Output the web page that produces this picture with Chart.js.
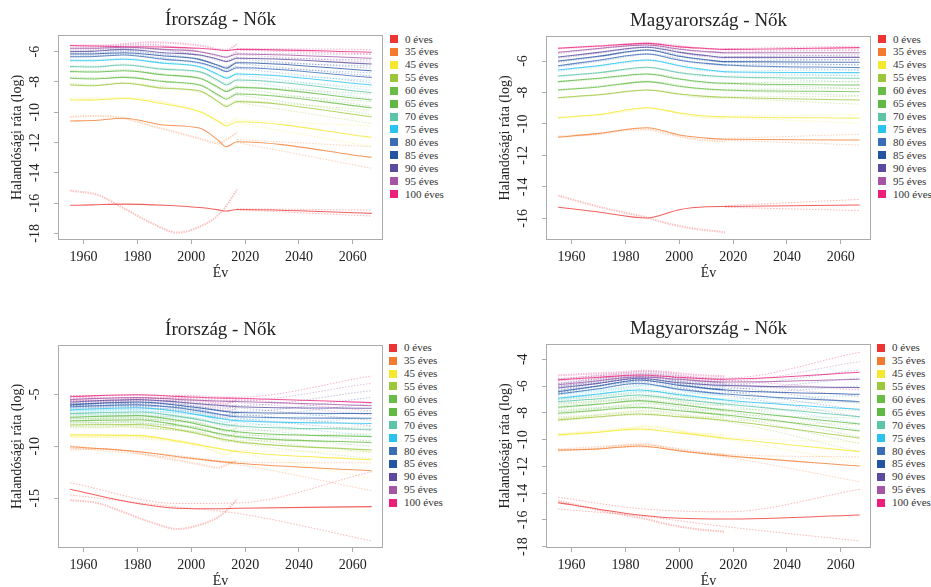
<!DOCTYPE html>
<html>
<head>
<meta charset="utf-8">
<script src="https://cdn.jsdelivr.net/npm/chart.js@4.4.1/dist/chart.umd.min.js"></script>
<style>
body { margin: 0; width: 931px; height: 587px; overflow: hidden; background: #fff; font-family: 'Liberation Serif', serif; }
canvas { position: absolute; }
.leg { position: absolute; font-family: 'Liberation Serif', serif; font-size: 11px; color: #333; }
.leg .sq { position: absolute; left: 0; width: 8px; height: 8px; }
.leg .tx { position: absolute; left: 15px; white-space: nowrap; line-height: 12px; font-family: 'Liberation Serif', serif; }
</style>
</head>
<body>
<script>
const ages = ['0 éves', '35 éves', '45 éves', '55 éves', '60 éves', '65 éves', '70 éves', '75 éves', '80 éves', '85 éves', '90 éves', '95 éves', '100 éves'];
const ageColors = ['#ee3432', '#f47a30', '#f5e82e', '#9cc73c', '#69bd46', '#60b845', '#5ec4a7', '#2ac3ef', '#3b6cb6', '#2553a3', '#5b4a9f', '#a456a4', '#ec1e79'];
const xTicks = [1960, 1980, 2000, 2020, 2040, 2060];

// Írország - megfigyelt (rows follow ages)
const ieObsYears = [1955, 1965, 1975, 1985, 1995, 2005, 2010, 2013, 2017];
const ieObs = [
  [-15.18, -15.45, -16.35, -17.3, -17.95, -17.4, -16.8, -16.2, -15.1],
  [-10.3, -10.25, -10.4, -10.9, -11.35, -11.84, -12.06, -11.8, -11.35],
  [-9.1, -9.1, -9.05, -9.2, -9.55, -10.1, -10.6, -10.75, -10.34],
  [-8.15, -8.2, -8.05, -8.25, -8.45, -8.75, -9.3, -9.55, -9.2],
  [-7.7, -7.75, -7.65, -7.85, -8.05, -8.3, -8.9, -9.05, -8.7],
  [-7.28, -7.3, -7.22, -7.4, -7.6, -7.85, -8.4, -8.55, -8.25],
  [-6.95, -6.98, -6.85, -7.05, -7.2, -7.45, -7.95, -8.1, -7.8],
  [-6.55, -6.55, -6.45, -6.65, -6.8, -7.1, -7.55, -7.7, -7.4],
  [-6.3, -6.28, -6.15, -6.35, -6.55, -6.85, -7.15, -7.25, -6.95],
  [-6.1, -6.1, -5.95, -6.1, -6.3, -6.6, -6.95, -7.0, -6.65],
  [-5.95, -5.9, -5.75, -5.8, -6.0, -6.3, -6.55, -6.6, -6.35],
  [-5.8, -5.75, -5.6, -5.55, -5.75, -6.05, -6.3, -6.35, -6.0],
  [-5.6, -5.6, -5.5, -5.38, -5.45, -5.65, -5.85, -5.9, -5.5]
];

// Magyarország - megfigyelt
const huObsYears = [1955, 1970, 1980, 1988, 1995, 2005, 2017];
const huObs = [
  [-14.56, -15.26, -15.65, -15.95, -16.3, -16.65, -16.89],
  [-10.8, -10.65, -10.4, -10.35, -10.6, -10.95, -11.13],
  [-9.62, -9.42, -9.2, -9.0, -9.15, -9.5, -9.65],
  [-8.35, -8.15, -7.95, -7.85, -7.95, -8.25, -8.35],
  [-7.85, -7.62, -7.45, -7.3, -7.42, -7.72, -7.86],
  [-7.33, -7.12, -6.95, -6.83, -6.95, -7.3, -7.44],
  [-6.97, -6.75, -6.55, -6.42, -6.55, -6.88, -7.02],
  [-6.6, -6.32, -6.1, -5.95, -6.08, -6.5, -6.7],
  [-6.35, -6.0, -5.72, -5.55, -5.7, -6.08, -6.27],
  [-6.05, -5.72, -5.45, -5.3, -5.45, -5.85, -6.06],
  [-5.8, -5.48, -5.25, -5.1, -5.22, -5.6, -5.8],
  [-5.5, -5.22, -5.05, -4.95, -5.05, -5.35, -5.5],
  [-5.2, -5.05, -4.95, -4.85, -4.95, -5.15, -5.28]
];

// panel 1: Írország (felső)
const p1YTicks = [-6, -8, -10, -12, -14, -16, -18];
const p1FitYears = [1955, 1963, 1975, 1990, 2003, 2010, 2013, 2017, 2067];
const p1Fit = [
  [-16.15, -16.12, -16.07, -16.15, -16.3, -16.45, -16.53, -16.42, -16.68],
  [-10.58, -10.55, -10.4, -10.85, -11.05, -11.85, -12.28, -11.95, -12.98],
  [-9.19, -9.2, -9.1, -9.46, -9.96, -10.6, -10.91, -10.63, -11.66],
  [-8.2, -8.25, -8.09, -8.42, -8.58, -9.3, -9.63, -9.3, -10.3],
  [-7.76, -7.8, -7.7, -7.98, -8.2, -8.85, -9.15, -8.8, -9.7],
  [-7.32, -7.35, -7.26, -7.54, -7.76, -8.35, -8.64, -8.36, -9.19],
  [-6.99, -7.02, -6.88, -7.17, -7.32, -7.9, -8.2, -7.87, -8.71],
  [-6.6, -6.6, -6.5, -6.77, -6.99, -7.5, -7.76, -7.48, -8.2],
  [-6.33, -6.33, -6.22, -6.51, -6.73, -7.1, -7.32, -7.06, -7.7],
  [-6.15, -6.15, -6.07, -6.29, -6.51, -6.9, -7.1, -6.73, -7.26],
  [-6.0, -5.98, -5.85, -6.07, -6.22, -6.5, -6.66, -6.44, -6.81],
  [-5.78, -5.78, -5.71, -5.85, -6.0, -6.25, -6.37, -6.15, -6.44],
  [-5.6, -5.62, -5.67, -5.7, -5.78, -5.88, -5.93, -5.85, -6.04]
];
const p1BandYears = [2017, 2067];
const p1Hi = [[-16.38, -16.46], [-11.8, -12.28], [-10.5, -10.91], [-9.2, -9.85], [-8.72, -9.3], [-8.28, -8.8], [-7.8, -8.35], [-7.42, -7.9], [-7.0, -7.4], [-6.68, -6.95], [-6.4, -6.55], [-6.1, -6.2], [-5.8, -5.85]];
const p1Lo = [[-16.45, -16.86], [-12.0, -13.7], [-10.7, -12.28], [-9.35, -10.75], [-8.85, -10.15], [-8.42, -9.6], [-7.93, -9.1], [-7.53, -8.55], [-7.1, -8.05], [-6.78, -7.6], [-6.48, -7.1], [-6.2, -6.7], [-5.9, -6.15]];

// panel 2: Magyarország (felső)
const p2YTicks = [-6, -8, -10, -12, -14, -16];
const p2FitYears = [1955, 1970, 1988, 2000, 2010, 2017, 2067];
const p2Fit = [
  [-15.3, -15.6, -15.98, -15.45, -15.27, -15.25, -15.15],
  [-10.85, -10.6, -10.24, -10.7, -10.9, -10.98, -11.02],
  [-9.6, -9.4, -8.97, -9.3, -9.5, -9.54, -9.64],
  [-8.33, -8.15, -7.84, -8.1, -8.25, -8.31, -8.48],
  [-7.84, -7.65, -7.31, -7.6, -7.78, -7.84, -7.95],
  [-7.31, -7.1, -6.83, -7.15, -7.35, -7.42, -7.53],
  [-6.95, -6.75, -6.4, -6.75, -6.92, -7.0, -7.1],
  [-6.57, -6.3, -5.94, -6.3, -6.55, -6.68, -6.74],
  [-6.3, -5.95, -5.56, -5.95, -6.15, -6.25, -6.42],
  [-6.0, -5.7, -5.3, -5.7, -5.92, -6.04, -6.08],
  [-5.75, -5.45, -5.12, -5.45, -5.65, -5.77, -5.77],
  [-5.45, -5.2, -4.98, -5.25, -5.4, -5.47, -5.47],
  [-5.19, -5.05, -4.88, -5.1, -5.2, -5.26, -5.15]
];
const p2BandYears = [2017, 2067];
const p2Hi = [[-15.2, -14.8], [-10.92, -10.66], [-9.5, -9.4], [-8.27, -8.25], [-7.8, -7.75], [-7.38, -7.3], [-6.96, -6.9], [-6.64, -6.55], [-6.22, -6.25], [-6.0, -5.9], [-5.73, -5.6], [-5.43, -5.3], [-5.22, -5.05]];
const p2Lo = [[-15.3, -15.51], [-11.04, -11.34], [-9.58, -9.96], [-8.35, -8.75], [-7.88, -8.2], [-7.46, -7.75], [-7.04, -7.35], [-6.72, -6.95], [-6.28, -6.6], [-6.08, -6.25], [-5.81, -5.95], [-5.51, -5.7], [-5.3, -5.3]];

// panel 3: Írország (alsó)
const p3YTicks = [-5, -10, -15];
const p3FitYears = [1955, 1980, 1995, 2010, 2017, 2067];
const p3Fit = [
  [-14.13, -15.5, -15.95, -16.0, -15.96, -15.8],
  [-10.05, -10.5, -11.0, -11.45, -11.63, -12.35],
  [-8.9, -8.95, -9.5, -10.2, -10.51, -11.3],
  [-7.95, -7.9, -8.4, -9.2, -9.55, -10.36],
  [-7.55, -7.45, -7.95, -8.75, -9.07, -9.65],
  [-7.2, -7.05, -7.5, -8.3, -8.6, -9.07],
  [-6.85, -6.7, -7.1, -7.8, -8.05, -8.37],
  [-6.5, -6.3, -6.65, -7.3, -7.53, -7.8],
  [-6.2, -6.0, -6.3, -6.9, -7.15, -7.3],
  [-6.0, -5.75, -6.05, -6.55, -6.76, -6.85],
  [-5.75, -5.5, -5.75, -6.05, -6.19, -6.35],
  [-5.5, -5.3, -5.5, -5.65, -5.7, -6.1],
  [-5.22, -5.05, -5.2, -5.35, -5.38, -5.8]
];
const p3BandYears = [1955, 1995, 2017, 2067];
const p3Hi = [
  [-13.5, -15.5, -15.45, -12.45], [-9.95, -10.9, -11.5, -11.6], [-8.8, -9.4, -10.4, -10.5], [-7.85, -8.3, -9.45, -9.5],
  [-7.45, -7.85, -8.97, -8.8], [-7.1, -7.4, -8.5, -8.1], [-6.75, -7.0, -7.95, -7.3], [-6.4, -6.55, -7.43, -6.6],
  [-6.1, -6.2, -7.05, -5.9], [-5.9, -5.95, -6.66, -5.3], [-5.65, -5.65, -6.09, -4.65], [-5.4, -5.4, -5.6, -3.94],
  [-5.12, -5.1, -5.28, -3.24]
];
const p3Lo = [
  [-14.68, -15.85, -16.44, -19.1], [-10.15, -11.1, -11.75, -14.27], [-9.0, -9.6, -10.6, -13.08], [-8.05, -8.5, -9.65, -11.2],
  [-7.65, -8.05, -9.17, -10.6], [-7.3, -7.6, -8.7, -10.0], [-6.95, -7.2, -8.15, -9.5], [-6.6, -6.75, -7.63, -9.0],
  [-6.3, -6.4, -7.25, -8.5], [-6.1, -6.15, -6.86, -8.0], [-5.85, -5.85, -6.29, -7.5], [-5.6, -5.6, -5.8, -7.0],
  [-5.32, -5.3, -5.48, -6.6]
];

// panel 4: Magyarország (alsó)
const p4YTicks = [-4, -6, -8, -10, -12, -14, -16, -18];
const p4FitYears = [1955, 1970, 1985, 2000, 2017, 2067];
const p4Fit = [
  [-14.71, -15.2, -15.63, -15.88, -15.94, -15.64],
  [-10.78, -10.7, -10.48, -10.85, -11.2, -11.98],
  [-9.65, -9.45, -9.21, -9.5, -9.9, -10.9],
  [-8.53, -8.3, -8.09, -8.3, -8.58, -9.9],
  [-8.04, -7.8, -7.59, -7.85, -8.16, -9.36],
  [-7.59, -7.35, -7.09, -7.4, -7.79, -8.84],
  [-7.16, -6.95, -6.67, -7.0, -7.34, -8.29],
  [-6.91, -6.6, -6.29, -6.65, -7.04, -7.74],
  [-6.6, -6.2, -5.79, -6.25, -6.6, -7.17],
  [-6.42, -6.0, -5.55, -5.95, -6.29, -6.62],
  [-6.15, -5.8, -5.42, -5.75, -5.95, -6.12],
  [-5.9, -5.6, -5.3, -5.5, -5.7, -5.5],
  [-5.54, -5.35, -5.17, -5.35, -5.49, -4.97]
];
const p4BandYears = [1955, 1985, 2017, 2067];
const p4Hi = [
  [-14.31, -15.15, -15.4, -13.72], [-10.7, -10.4, -11.1, -11.3], [-9.57, -9.13, -9.82, -10.2], [-8.45, -8.01, -8.5, -8.9],
  [-7.96, -7.51, -8.08, -8.4], [-7.51, -7.01, -7.71, -7.8], [-7.08, -6.59, -7.26, -7.2], [-6.83, -6.21, -6.96, -6.7],
  [-6.52, -5.71, -6.52, -6.0], [-6.34, -5.47, -6.21, -5.4], [-6.07, -5.34, -5.87, -4.8], [-5.82, -5.22, -5.62, -4.18],
  [-5.46, -5.09, -5.41, -3.48]
];
const p4Lo = [
  [-15.19, -15.7, -16.5, -17.58], [-10.86, -10.56, -11.3, -13.15], [-9.73, -9.29, -9.98, -11.77], [-8.61, -8.17, -8.66, -10.9],
  [-8.12, -7.67, -8.24, -10.3], [-7.67, -7.17, -7.87, -9.8], [-7.24, -6.75, -7.42, -9.3], [-6.99, -6.37, -7.12, -8.8],
  [-6.68, -5.87, -6.68, -8.3], [-6.5, -5.63, -6.37, -7.8], [-6.23, -5.5, -6.03, -7.3], [-5.98, -5.38, -5.78, -6.8],
  [-5.62, -5.25, -5.57, -6.3]
];

const serif = 'Liberation Serif';
const axisGray = '#ababab';
const textColor = '#222';

const panels = [
  { title: 'Írország - Nők', left: 0, top: 0, h: 286, yMin: -18.44, yMax: -4.9, yTicks: p1YTicks,
    obsYears: ieObsYears, obs: ieObs, fitYears: p1FitYears, fit: p1Fit, bandYears: p1BandYears, hi: p1Hi, lo: p1Lo, legX: 390, legY: 39 },
  { title: 'Magyarország - Nők', left: 488, top: 1, h: 285, yMin: -17.38, yMax: -4.41, yTicks: p2YTicks,
    obsYears: huObsYears, obs: huObs, fitYears: p2FitYears, fit: p2Fit, bandYears: p2BandYears, hi: p2Hi, lo: p2Lo, legX: 878, legY: 39 },
  { title: 'Írország - Nők', left: 0, top: 310, h: 284, yMin: -19.78, yMax: -0.26, yTicks: p3YTicks,
    obsYears: ieObsYears, obs: ieObs, fitYears: p3FitYears, fit: p3Fit, bandYears: p3BandYears, hi: p3Hi, lo: p3Lo, legX: 389, legY: 347.7 },
  { title: 'Magyarország - Nők', left: 488, top: 309, h: 285, yMin: -18.1, yMax: -2.86, yTicks: p4YTicks,
    obsYears: huObsYears, obs: huObs, fitYears: p4FitYears, fit: p4Fit, bandYears: p4BandYears, hi: p4Hi, lo: p4Lo, legX: 877, legY: 347.7 }
];

function rgba(hex, a) {
  const n = parseInt(hex.slice(1), 16);
  return `rgba(${n >> 16}, ${(n >> 8) & 255}, ${n & 255}, ${a})`;
}
function pts(xs, ys) {
  return xs.map((x, j) => ({ x: x, y: ys[j] }));
}

// grey frame round the plot area
const boxPlugin = {
  id: 'box',
  afterDraw(chart) {
    const a = chart.chartArea, ctx = chart.ctx;
    ctx.save();
    ctx.strokeStyle = axisGray;
    ctx.lineWidth = 1;
    ctx.strokeRect(Math.round(a.left) + 0.5, Math.round(a.top) + 0.5, Math.round(a.right - a.left) - 1, Math.round(a.bottom - a.top) - 1);
    ctx.restore();
  }
};

panels.forEach(p => {
  const cv = document.createElement('canvas');
  cv.width = 386;
  cv.height = p.h;
  cv.style.left = p.left + 'px';
  cv.style.top = p.top + 'px';
  document.body.appendChild(cv);

  const fits = [], obs = [], bands = [];
  ages.forEach((age, i) => {
    const c = ageColors[i];
    fits.push({ label: age, data: pts(p.fitYears, p.fit[i]), borderColor: rgba(c, 0.78), borderWidth: 1.05 });
    obs.push({ label: age + ' (megfigyelt)', data: pts(p.obsYears, p.obs[i]), borderColor: rgba(c, 0.3), borderWidth: 2, borderDash: [1.5, 1] });
    bands.push({ label: age + ' (felső)', data: pts(p.bandYears, p.hi[i]), borderColor: rgba(c, 0.35), borderWidth: 1, borderDash: [1.5, 1.5] });
    bands.push({ label: age + ' (alsó)', data: pts(p.bandYears, p.lo[i]), borderColor: rgba(c, 0.35), borderWidth: 1, borderDash: [1.5, 1.5] });
  });

  new Chart(cv, {
    type: 'line',
    data: { datasets: [...fits, ...obs, ...bands] },
    options: {
      responsive: false,
      animation: false,
      layout: { padding: { right: 3 } },
      elements: {
        point: { radius: 0 },
        line: { cubicInterpolationMode: 'monotone', fill: false }
      },
      plugins: {
        legend: { display: false },
        tooltip: { enabled: false },
        title: {
          display: true, text: p.title, fullSize: false, color: textColor,
          font: { family: serif, size: 19, weight: 'normal' },
          padding: { top: 9, bottom: 3.2 }
        }
      },
      scales: {
        x: {
          type: 'linear', min: 1950.5, max: 2071.2,
          afterBuildTicks: ax => { ax.ticks = xTicks.map(v => ({ value: v })); },
          afterFit: ax => { ax.height = 46; },
          grid: { display: true, drawOnChartArea: false, drawTicks: true, tickLength: 4, color: axisGray },
          border: { display: false },
          ticks: { font: { family: serif, size: 14 }, color: textColor, padding: 5, autoSkip: false, maxRotation: 0, callback: v => String(v) },
          title: { display: true, text: 'Év', font: { family: serif, size: 14 }, color: textColor, padding: { top: 0, bottom: 4 } }
        },
        y: {
          type: 'linear', min: p.yMin, max: p.yMax,
          afterBuildTicks: ax => { ax.ticks = p.yTicks.map(v => ({ value: v })); },
          afterFit: ax => { ax.width = 58; },
          grid: { display: true, drawOnChartArea: false, drawTicks: true, tickLength: 4, color: axisGray },
          border: { display: false },
          ticks: { font: { family: serif, size: 14 }, color: textColor, padding: 9, minRotation: 90, maxRotation: 90, crossAlign: 'center', autoSkip: false, callback: v => String(v) },
          title: { display: true, text: 'Halandósági ráta (log)', font: { family: serif, size: 14 }, color: textColor, padding: { top: 9, bottom: 0 } }
        }
      }
    },
    plugins: [boxPlugin]
  });

  // legend at the right of each panel
  const leg = document.createElement('div');
  leg.className = 'leg';
  leg.style.left = p.legX + 'px';
  leg.style.top = p.legY + 'px';
  ages.forEach((age, i) => {
    const y = i * 12.92;
    const sq = document.createElement('div');
    sq.className = 'sq';
    sq.style.top = (y - 4) + 'px';
    sq.style.background = ageColors[i];
    const tx = document.createElement('div');
    tx.className = 'tx';
    tx.style.top = (y - 6.5) + 'px';
    tx.textContent = age;
    leg.appendChild(sq);
    leg.appendChild(tx);
  });
  document.body.appendChild(leg);
});
</script>
</body>
</html>
